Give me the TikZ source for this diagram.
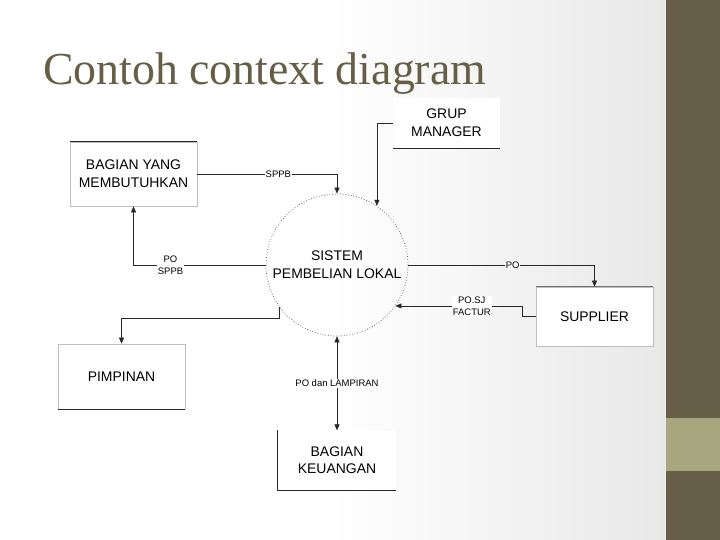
\documentclass[tikz,border=0pt]{standalone}
\usepackage{fontspec}
\setmainfont{Liberation Serif}
\setsansfont{Liberation Sans}
\usepackage{xcolor}
\usepackage{tikz}
\usetikzlibrary{shapes.geometric, arrows.meta, positioning, calc}
\definecolor{slidebrown}{RGB}{103, 94, 72}
\definecolor{slidekhaki}{RGB}{168, 166, 126}
\definecolor{edgegray}{RGB}{190, 190, 190}
\definecolor{linedark}{RGB}{40, 40, 40}
\tikzset{
  font=\sffamily\fontsize{14}{18}\selectfont,
  entityblock/.style={
    rectangle, draw=edgegray, fill=white, line width=0.7pt,
    inner sep=0pt, align=center
  },
  processblock/.style={
    circle, draw=black!70, dotted, line width=0.7pt,
    minimum size=142bp, inner sep=0pt, align=center
  },
  flowlabel/.style={
    font=\sffamily\fontsize{9.5}{12}\selectfont, fill=white,
    inner sep=1pt, align=center
  },
  edgeline/.style={draw=linedark, line width=0.8pt},
  flowline/.style={
    draw=linedark, -{Triangle[length=6bp, width=5bp]}, line width=0.6pt
  },
  bidirline/.style={
    draw=linedark, {Triangle[length=6bp, width=5bp]}-{Triangle[length=6bp, width=5bp]}, line width=0.6pt
  }
}
\begin{document}
\begin{tikzpicture}[x=1bp, y=-1bp]
  \fill[white] (0,0) rectangle (720,540);
  \shade[left color=white, right color=black!9] (330,0) rectangle (666,540);
  \fill[slidebrown] (666,0) rectangle (720,540);
  \fill[slidekhaki] (666,418) rectangle (720,471);

  \node[anchor=base west, inner sep=0pt, text=slidebrown, font=\rmfamily\fontsize{46}{50}\selectfont] (title) at (43,85) {Contoh context diagram};

  \node[entityblock, minimum width=127bp, minimum height=64bp] (bagian) at (133.5,174) {BAGIAN YANG\\MEMBUTUHKAN};
  \node[entityblock, minimum width=127bp, minimum height=65bp] (pimpinan) at (121.5,376.5) {PIMPINAN};
  \node[processblock] (sys) at (337,265) {SISTEM\\PEMBELIAN LOKAL};
  \node[entityblock, draw=none, minimum width=107bp, minimum height=50bp] (grup) at (446.5,123) {GRUP\\MANAGER};
  \node[entityblock, minimum width=117bp, minimum height=59bp] (supplier) at (594.5,316.5) {SUPPLIER};
  \node[entityblock, draw=none, below=94bp of sys, minimum width=118bp, minimum height=59bp] (keu) {BAGIAN\\KEUANGAN};

  \draw[edgeline] (bagian.north west) -- (bagian.north east);
  \draw[edgeline] (pimpinan.south west) -- (pimpinan.south east);
  \draw[edgeline, draw=black!55] (supplier.north west) -- (supplier.north east);
  \draw[edgeline] (grup.south west) -- (grup.south east);
  \draw[edgeline] (keu.north west) -- (keu.south west) -- (keu.south east);

  \draw[flowline] (bagian.east) -| node[flowlabel, pos=0.29] {SPPB} (sys.north);
  \draw[flowline] (sys.west) -| node[flowlabel, pos=0.36] {PO\\SPPB} (bagian.south);
  \draw[flowline] (sys.216) -- ++(0,11) -| (pimpinan.north);
  \draw[flowline] (grup.west) -| (sys.56);
  \draw[flowline] (sys.east) -| node[flowlabel, pos=0.28] {PO} (supplier.north);
  \draw[flowline] (supplier.west) -- ++(-13,0) |- node[flowlabel, pos=0.7] {PO.SJ\\FACTUR} (sys.-35);
  \draw[bidirline] (sys.south) -- node[flowlabel] {PO dan LAMPIRAN} (keu.north);
\end{tikzpicture}
\end{document}
